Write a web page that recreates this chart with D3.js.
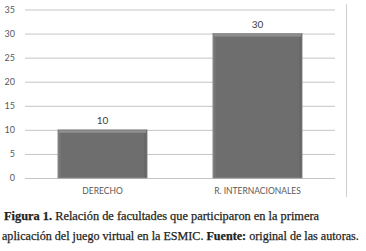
<!DOCTYPE html>
<html><head><meta charset="utf-8">
<script src="https://cdn.jsdelivr.net/npm/d3@7"></script>
<style>body{margin:0;background:#fff}svg{display:block}</style>
</head><body>
<script>
const categories = ["DERECHO", "R. INTERNACIONALES"];
const values = [10, 30];
const yTicks = [0, 5, 10, 15, 20, 25, 30, 35];
const captionLine1 = [["Figura 1.", true], [" Relación de facultades que participaron en la primera", false]];
const captionLine2 = [["aplicación del juego virtual en la ESMIC. ", false], ["Fuente:", true], [" original de las autoras.", false]];

const W = 366, H = 251;
const svg = d3.select("body").append("svg").attr("width", W).attr("height", H);

const x = d3.scaleBand().domain(categories).range([25, 335]).paddingInner(0.425).paddingOuter(0.2125);
const y = d3.scaleLinear().domain([0, 35]).range([178, 9.5]);

const axisFont = "Lato, 'Open Sans', sans-serif";

// gridlines
const yAxis = d3.axisLeft(y).tickValues(yTicks).tickSize(-310).tickPadding(10);
const gA = svg.append("g").attr("transform", "translate(25,0)").call(yAxis);
gA.select(".domain").remove();
gA.selectAll(".tick line").attr("stroke", "#c4c4c4").attr("stroke-width", 1);
gA.selectAll(".tick text").attr("fill", "#595959").style("font-family", axisFont).style("font-size", "9px");

// vertical border line at right
svg.append("line").attr("x1", 346.5).attr("x2", 346.5).attr("y1", 4).attr("y2", 197)
  .attr("stroke", "#cfcfcf").attr("stroke-width", 1);

// bars
const defs = svg.append("defs");
const grad = defs.append("linearGradient").attr("id", "bg").attr("x1", 0).attr("x2", 1).attr("y1", 0).attr("y2", 0);
grad.append("stop").attr("offset", "0%").attr("stop-color", "#7e7e7e");
grad.append("stop").attr("offset", "4%").attr("stop-color", "#6e6e6e");
grad.append("stop").attr("offset", "96%").attr("stop-color", "#6e6e6e");
grad.append("stop").attr("offset", "100%").attr("stop-color", "#5e5e5e");

const bars = svg.append("g").selectAll("g").data(categories).join("g");
bars.append("rect")
  .attr("x", d => x(d)).attr("width", x.bandwidth())
  .attr("y", (d, i) => y(values[i])).attr("height", (d, i) => y(0) - y(values[i]))
  .attr("fill", "url(#bg)").attr("stroke", "#8c8c8c").attr("stroke-width", 0.8);
bars.append("rect")
  .attr("x", d => x(d) + 1).attr("width", x.bandwidth() - 2)
  .attr("y", (d, i) => y(values[i]) + 0.5).attr("height", 2.5)
  .attr("fill", "#8e8e8e");

// value labels
svg.append("g").selectAll("text").data(categories).join("text")
  .attr("x", d => x(d) + x.bandwidth() / 2)
  .attr("y", (d, i) => y(values[i]) - 6)
  .attr("text-anchor", "middle")
  .attr("fill", "#404040").style("font-family", axisFont).style("font-size", "10px")
  .text((d, i) => values[i]);

// category labels
const xAxis = d3.axisBottom(x).tickSize(0).tickPadding(10);
const gX = svg.append("g").attr("transform", "translate(0,178)").call(xAxis);
gX.select(".domain").remove();
gX.selectAll(".tick text").attr("fill", "#595959").style("font-family", axisFont).style("font-size", "8.5px");

// caption
const capFont = "'Liberation Serif', 'DejaVu Serif', serif";
function caption(parts, x0, yb, targetW) {
  const t = svg.append("text").attr("x", x0).attr("y", yb).attr("fill", "#231f20")
    .attr("stroke", "#231f20").attr("stroke-width", 0.25)
    .style("font-family", capFont).style("font-size", "10px");
  parts.forEach(([s, b]) => t.append("tspan").attr("font-weight", b ? "bold" : "normal").text(s));
  const len = t.node().getComputedTextLength();
  t.style("font-size", (10 * targetW / len).toFixed(2) + "px");
}
caption(captionLine1, 4, 220, 315);
caption(captionLine2, 2, 240, 357);
</script>
</body></html>
